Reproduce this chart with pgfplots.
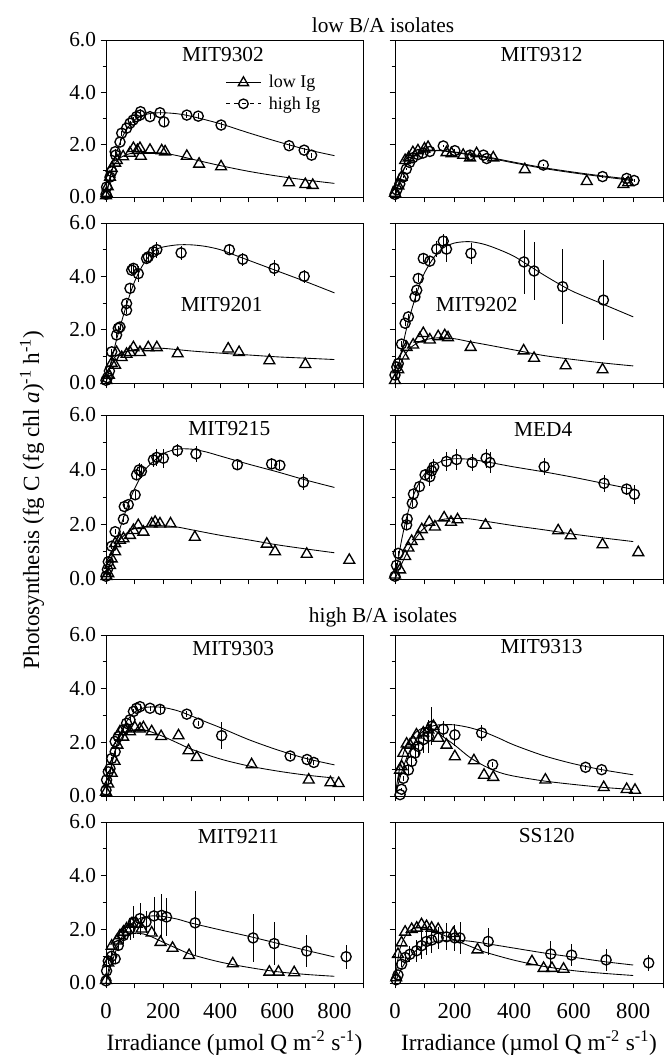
\documentclass[border=0pt]{standalone}
\usepackage{fontspec}
\setmainfont{Liberation Serif}
\usepackage{pgfplots}
\pgfplotsset{compat=1.18}
\tikzset{lab/.style={font=\fontsize{16}{18}\selectfont}}
\pgfplotsset{
  panel/.style={scale only axis, xmin=0, xmax=900, ymin=0, ymax=6,
    xtick={0,100,...,900}, xticklabels={}, ytick={0,2,4,6}, yticklabels={},
    minor ytick={1,3,5}, tick align=outside, xtick pos=bottom, ytick pos=left,
    major tick length=4pt, minor tick length=2.5pt,
    tick style={black, line width=0.6pt}, axis line style={line width=0.7pt},
    clip=false, anchor=south west,
    yticklabel style={font=\fontsize{16}{18}\selectfont},
    xticklabel style={font=\fontsize{17}{19}\selectfont, yshift=-8pt},
  },
  L/.style={panel, width=192.75pt, yticklabels={0.0,2.0,4.0,6.0}},
  R/.style={panel, width=201pt},
  bot/.style={xticklabels={0,,200,,400,,600,,800,},
    xlabel={Irradiance (µmol Q m\textsuperscript{-2} s\textsuperscript{-1})},
    xlabel style={font=\fontsize{17.5}{19}\selectfont, yshift=-2pt}},
  hi/.style={only marks, mark=o, mark size=3.8pt, black, mark options={line width=1pt},
    error bars/y dir=both, error bars/y explicit, error bars/error mark=none,
    error bars/error bar style={line width=0.6pt, black}},
  lo/.style={only marks, mark=triangle, mark size=4.7pt, black, mark options={line width=1pt}},
  fit/.style={no marks, smooth, black, line width=0.65pt},
}
\begin{document}
\begin{tikzpicture}
\path[use as bounding box] (0pt,0pt) rectangle (501pt,795.75pt);

% ---------- Row 1 left: MIT9302
\begin{axis}[L, at={(79.5pt,648pt)}, height=117.75pt,
  legend style={at={(0.45,0.81)}, anchor=north west, draw=none, fill=none,
    font=\fontsize{13.5}{15}\selectfont, row sep=1pt, cells={anchor=west}},
  legend image code/.code={\draw[mark repeat=2,mark phase=2,#1] plot coordinates {(0cm,0cm) (0.45cm,0cm) (0.9cm,0cm)};}]
\addlegendimage{black, line width=0.7pt, mark=triangle, mark size=4.4pt, mark options={solid, line width=1pt}}
\addlegendentry{\hspace{4pt}low Ig}
\addlegendimage{black, dashed, line width=0.7pt, mark=o, mark size=3.6pt, mark options={solid, line width=1pt}}
\addlegendentry{\hspace{4pt}high Ig}
\addplot[fit, forget plot] coordinates {(0,0) (20,1.0) (40,1.8) (60,2.35) (80,2.7) (100,2.95) (130,3.12) (160,3.2) (200,3.22) (250,3.18) (300,3.08) (400,2.8) (500,2.45) (600,2.12) (700,1.82) (800,1.58)};
\addplot[fit, forget plot] coordinates {(0,0) (10,0.6) (20,1.0) (30,1.25) (50,1.5) (75,1.63) (100,1.68) (150,1.7) (200,1.68) (250,1.58) (300,1.45) (400,1.2) (500,0.98) (600,0.8) (700,0.65) (800,0.52)};
\addplot[hi, forget plot] table[x=x, y=y, y error=e] {
x y e
0 0.1 0
2 0.38 0.1
14 0.76 0.1
20 0.97 0.1
32 1.73 0.1
34 1.6 0.1
49 2.1 0.1
55 2.44 0.1
72 2.63 0.1
84 2.82 0.1
95 2.94 0.1
107 3.07 0.1
119 3.13 0.1
121 3.26 0.1
154 3.07 0.1
189 3.22 0.1
203 2.87 0.15
283 3.13 0.12
323 3.09 0.12
403 2.75 0.1
641 1.96 0.12
694 1.79 0.1
720 1.6 0.1
};
\addplot[lo, forget plot] table {
x y
0 0.05
2 0.15
6 0.4
14 0.76
20 1.1
32 1.3
38 1.4
60 1.54
84 1.68
96 1.86
110 1.78
119 1.86
122 1.56
154 1.79
195 1.77
207 1.73
283 1.56
326 1.26
403 1.16
641 0.55
698 0.48
724 0.45
};
\node[lab] at (rel axis cs:0.455,0.905) {MIT9302};
\end{axis}

% ---------- Row 1 right: MIT9312
\begin{axis}[R, at={(296.25pt,648pt)}, height=117.75pt]
\addplot[fit] coordinates {(0,0) (15,0.6) (30,1.05) (50,1.4) (75,1.65) (100,1.75) (150,1.78) (200,1.72) (300,1.55) (400,1.33) (500,1.12) (600,0.95) (700,0.8) (800,0.67)};
\addplot[fit] coordinates {(0,0) (15,0.62) (30,1.08) (50,1.43) (75,1.67) (100,1.76) (150,1.77) (200,1.7) (300,1.52) (400,1.3) (500,1.09) (600,0.92) (700,0.77) (800,0.63)};
\addplot[hi] table[x=x, y=y, y error=e] {
x y e
0 0.1 0
6 0.27 0.05
16 0.5 0.05
27 0.76 0.05
38 1.07 0.05
49 1.32 0.05
60 1.5 0.05
77 1.62 0.05
94 1.68 0.05
117 1.74 0.05
162 1.95 0.05
201 1.77 0.05
252 1.6 0.05
297 1.6 0.05
308 1.47 0.05
498 1.22 0.05
697 0.78 0.05
778 0.71 0.05
803 0.63 0.05
};
\addplot[lo] table {
x y
0 0.15
11 0.43
22 0.76
34 1.4
46 1.5
60 1.7
77 1.77
99 1.84
111 1.9
173 1.7
190 1.66
229 1.6
252 1.5
274 1.66
330 1.5
436 1.05
644 0.6
767 0.48
783 0.55
};
\node[lab] at (rel axis cs:0.547,0.905) {MIT9312};
\end{axis}

% ---------- Row 2 left: MIT9201
\begin{axis}[L, at={(79.5pt,508.5pt)}, height=120pt]
\addplot[fit] coordinates {(0,0) (20,0.9) (40,1.75) (60,2.5) (80,3.2) (100,3.8) (125,4.35) (150,4.75) (175,5.0) (200,5.1) (250,5.18) (300,5.18) (350,5.12) (400,5.0) (450,4.8) (500,4.6) (600,4.2) (700,3.8) (800,3.38)};
\addplot[fit] coordinates {(0,0) (20,0.8) (40,1.05) (60,1.15) (100,1.25) (150,1.3) (200,1.3) (300,1.2) (400,1.12) (500,1.05) (600,0.98) (700,0.93) (800,0.88)};
\addplot[hi] table[x=x, y=y, y error=e] {
x y e
0 0.1 0
5 0.2 0.05
12 0.45 0.05
20 1.17 0.1
37 1.8 0.1
43 2.05 0.1
49 2.1 0.1
72 2.73 0.15
72 2.98 0.15
84 3.55 0.15
90 4.23 0.15
96 4.3 0.15
113 4.1 0.3
142 4.67 0.2
148 4.73 0.2
166 4.92 0.2
178 5.0 0.3
263 4.88 0.25
432 5.0 0.2
479 4.64 0.25
589 4.3 0.3
694 4.0 0.25
};
\addplot[lo] table {
x y
2 0.1
10 0.3
20 0.74
32 0.67
37 1.15
55 0.96
72 1.08
84 1.15
96 1.33
119 1.15
148 1.33
178 1.33
251 1.1
428 1.28
466 1.15
572 0.84
698 0.7
};
\node[lab] at (rel axis cs:0.45,0.49) {MIT9201};
\end{axis}

% ---------- Row 2 right: MIT9202
\begin{axis}[R, at={(296.25pt,508.5pt)}, height=120pt]
\addplot[fit] coordinates {(0,0) (20,1.1) (40,2.1) (60,2.9) (80,3.6) (100,4.15) (130,4.7) (160,5.05) (200,5.25) (250,5.3) (300,5.2) (350,5.0) (400,4.75) (450,4.4) (500,4.05) (550,3.72) (600,3.42) (700,2.95) (800,2.48)};
\addplot[fit] coordinates {(0,0) (15,0.6) (30,1.0) (50,1.3) (75,1.5) (100,1.62) (150,1.7) (200,1.66) (250,1.55) (300,1.45) (400,1.24) (500,1.03) (600,0.88) (700,0.75) (800,0.64)};
\addplot[hi] table[x=x, y=y, y error=e] {
x y e
0 0.3 0.05
6 0.6 0.05
11 0.73 0.05
22 1.46 0.1
34 2.24 0.1
45 2.48 0.1
67 3.23 0.15
73 3.48 0.1
78 3.92 0.15
95 4.67 0.15
117 4.57 0.15
140 5.02 0.3
162 5.32 0.25
173 5.02 0.5
255 4.86 0.4
433 4.54 1.2
467 4.2 1.1
563 3.61 1.4
700 3.11 1.5
};
\addplot[lo] table {
x y
0 0.1
11 0.5
28 1.02
39 1.34
61 1.43
83 1.66
95 1.86
117 1.62
145 1.74
167 1.78
178 1.7
254 1.34
432 1.21
467 0.93
573 0.65
697 0.5
};
\node[lab] at (rel axis cs:0.305,0.49) {MIT9202};
\end{axis}

% ---------- Row 3 left: MIT9215
\begin{axis}[L, at={(79.5pt,361.5pt)}, height=123pt]
\addplot[fit] coordinates {(0,0) (20,0.8) (40,1.55) (60,2.2) (80,2.8) (100,3.3) (125,3.8) (150,4.15) (200,4.58) (250,4.75) (300,4.75) (350,4.65) (400,4.5) (500,4.2) (600,3.92) (700,3.62) (800,3.35)};
\addplot[fit] coordinates {(0,0) (15,0.6) (30,1.1) (50,1.45) (75,1.7) (100,1.85) (150,1.93) (200,1.95) (250,1.9) (300,1.8) (400,1.6) (500,1.43) (600,1.25) (700,1.1) (800,0.96)};
\addplot[hi] table[x=x, y=y, y error=e] {
x y e
0 0.1 0
5 0.35 0.05
8 0.63 0.05
20 1.2 0.1
32 1.73 0.1
61 2.19 0.1
64 2.65 0.1
78 2.72 0.15
102 3.08 0.15
107 3.81 0.2
116 3.99 0.25
124 3.94 0.25
166 4.36 0.25
178 4.45 0.3
201 4.42 0.35
250 4.7 0.25
315 4.58 0.3
460 4.18 0.15
580 4.21 0.2
609 4.16 0.15
691 3.54 0.3
};
\addplot[lo] table {
x y
2 0.1
8 0.2
14 0.5
20 0.74
32 1.0
32 1.3
49 1.42
61 1.48
84 1.6
96 1.78
113 1.96
131 1.72
160 2.02
172 2.08
189 2.02
226 2.02
311 1.53
563 1.28
592 1.0
703 0.91
852 0.69
};
\node[lab] at (rel axis cs:0.48,0.92) {MIT9215};
\end{axis}

% ---------- Row 3 right: MED4
\begin{axis}[R, at={(296.25pt,361.5pt)}, height=123pt]
\addplot[fit] coordinates {(0,0) (20,1.3) (40,2.3) (60,3.0) (80,3.5) (100,3.85) (130,4.15) (160,4.32) (200,4.4) (250,4.38) (300,4.3) (400,4.1) (500,3.92) (600,3.72) (700,3.5) (800,3.28)};
\addplot[fit] coordinates {(0,0) (20,0.5) (40,0.95) (60,1.35) (80,1.65) (100,1.88) (130,2.08) (160,2.18) (200,2.22) (250,2.2) (300,2.12) (400,1.95) (500,1.8) (600,1.64) (700,1.5) (800,1.37)};
\addplot[hi] table[x=x, y=y, y error=e] {
x y e
0 0.1 0
5 0.5 0.1
11 0.94 0.1
39 1.98 0.15
41 2.2 0.15
58 2.77 0.15
62 3.11 0.15
82 3.38 0.2
101 3.81 0.2
117 3.74 0.35
123 3.96 0.3
130 4.1 0.3
173 4.3 0.35
207 4.37 0.4
259 4.26 0.3
306 4.42 0.35
319 4.26 0.4
501 4.11 0.3
702 3.5 0.3
778 3.29 0.2
804 3.1 0.35
};
\addplot[lo] table {
x y
0 0.15
17 0.34
34 0.83
45 1.14
56 1.38
78 1.56
90 1.81
115 2.08
134 1.91
165 2.24
188 2.08
210 2.17
304 1.97
548 1.77
590 1.59
697 1.26
817 0.97
};
\node[lab] at (rel axis cs:0.553,0.91) {MED4};
\end{axis}

\node[lab] at (287.25pt,777pt) {low B/A isolates};
\node[lab] at (287.25pt,333pt) {high B/A isolates};
\node[font=\fontsize{17.4}{19}\selectfont, rotate=90] at (24pt,420.75pt) {Photosynthesis (fg C (fg chl \textit{a})\textsuperscript{-1} h\textsuperscript{-1})};

% ---------- Row 4 left: MIT9303
\begin{axis}[L, at={(79.5pt,198.75pt)}, height=120.75pt]
\addplot[fit] coordinates {(0,0) (20,1.2) (40,2.0) (60,2.55) (80,2.9) (100,3.12) (130,3.28) (160,3.32) (200,3.3) (250,3.18) (300,2.98) (350,2.76) (400,2.55) (500,2.1) (600,1.72) (700,1.4) (800,1.16)};
\addplot[fit] coordinates {(0,0) (15,0.9) (30,1.6) (50,2.1) (75,2.38) (100,2.47) (125,2.48) (150,2.42) (200,2.22) (250,1.98) (300,1.74) (400,1.38) (500,1.12) (600,0.93) (700,0.78) (800,0.67)};
\addplot[hi] table[x=x, y=y, y error=e] {
x y e
0 0.22 0
2 0.6 0.05
8 0.9 0.05
14 1.02 0.05
20 1.4 0.05
32 1.65 0.1
32 2.03 0.1
43 2.21 0.1
61 2.46 0.1
72 2.71 0.1
84 2.84 0.1
96 3.15 0.1
107 3.27 0.1
119 3.33 0.1
154 3.27 0.1
189 3.23 0.15
283 3.05 0.1
323 2.71 0.1
405 2.25 0.5
645 1.49 0.1
704 1.36 0.1
728 1.25 0.1
};
\addplot[lo] table {
x y
0 0.15
8 0.45
20 0.85
30 1.3
40 1.9
49 2.4
60 2.2
72 2.5
84 2.4
101 2.55
119 2.5
131 2.55
160 2.4
193 2.22
254 2.25
289 1.69
318 1.44
510 1.17
710 0.6
786 0.5
815 0.47
};
\node[lab] at (rel axis cs:0.495,0.917) {MIT9303};
\end{axis}

% ---------- Row 4 right: MIT9313
\begin{axis}[R, at={(296.25pt,198.75pt)}, height=120.75pt]
\addplot[fit] coordinates {(0,0) (20,0.8) (40,1.45) (60,1.9) (80,2.25) (100,2.48) (130,2.62) (160,2.66) (200,2.65) (250,2.55) (300,2.38) (350,2.15) (400,1.9) (500,1.5) (600,1.2) (700,0.97) (800,0.79)};
\addplot[fit] coordinates {(0,0) (15,1.0) (30,1.65) (50,2.1) (75,2.42) (100,2.55) (125,2.5) (150,2.3) (200,1.9) (250,1.45) (300,1.12) (350,0.88) (400,0.74) (500,0.56) (600,0.43) (700,0.32) (800,0.24)};
\addplot[hi] table[x=x, y=y, y error=e] {
x y e
17 0.05 0
22 0.25 0.05
28 0.66 0.1
45 0.97 0.2
56 1.29 0.2
67 1.6 0.3
78 1.85 0.4
95 2.1 0.5
112 2.22 0.6
123 2.6 0.7
162 2.49 0.3
201 2.28 0.4
291 2.35 0.3
328 1.17 0.1
640 1.07 0.1
694 0.98 0.1
};
\addplot[lo] table {
x y
17 0.97
22 1.1
28 1.6
39 1.94
50 1.9
61 2.03
72 2.28
95 2.35
112 2.47
129 2.6
145 2.16
173 1.9
201 1.47
265 1.32
299 0.78
330 0.7
505 0.6
701 0.32
778 0.25
806 0.22
};
\node[lab] at (rel axis cs:0.547,0.927) {MIT9313};
\end{axis}

% ---------- Row 5 left: MIT9211
\begin{axis}[L, bot, at={(79.5pt,58.5pt)}, height=120.75pt]
\addplot[fit] coordinates {(0,0) (20,0.75) (40,1.35) (60,1.8) (80,2.1) (100,2.3) (130,2.45) (160,2.5) (200,2.48) (250,2.38) (300,2.23) (400,1.98) (500,1.74) (600,1.48) (700,1.22) (800,0.97)};
\addplot[fit] coordinates {(0,0) (15,0.8) (30,1.3) (50,1.6) (75,1.78) (100,1.85) (130,1.83) (160,1.72) (200,1.52) (250,1.28) (300,1.06) (400,0.78) (500,0.58) (600,0.42) (700,0.32) (800,0.25)};
\addplot[hi] table[x=x, y=y, y error=e] {
x y e
0 0.08 0
2 0.45 0.1
8 0.82 0.1
20 1.0 0.15
32 0.9 0.15
43 1.4 0.2
61 1.77 0.3
84 2.02 0.4
96 2.27 0.6
119 2.4 0.6
140 2.27 0.4
168 2.5 0.7
195 2.52 0.8
212 2.46 0.7
312 2.24 1.2
515 1.68 0.9
589 1.47 0.8
703 1.19 0.6
841 0.98 0.45
};
\addplot[lo] table {
x y
0 0.1
8 0.75
20 1.38
37 1.57
49 1.77
61 1.9
72 2.02
90 2.2
107 2.2
125 2.02
160 1.87
191 1.52
233 1.3
291 1.03
444 0.72
572 0.41
604 0.41
659 0.39
};
\node[lab] at (rel axis cs:0.515,0.909) {MIT9211};
\end{axis}

% ---------- Row 5 right: SS120
\begin{axis}[R, bot, at={(296.25pt,58.5pt)}, height=120.75pt]
\addplot[fit] coordinates {(0,0) (20,0.5) (40,0.85) (60,1.1) (80,1.3) (100,1.42) (130,1.53) (160,1.58) (200,1.6) (250,1.56) (300,1.48) (400,1.3) (500,1.12) (600,0.96) (700,0.8) (800,0.67)};
\addplot[fit] coordinates {(0,0) (10,0.9) (20,1.4) (40,1.85) (60,2.02) (80,2.07) (100,2.05) (130,1.95) (160,1.8) (200,1.6) (250,1.38) (300,1.16) (400,0.85) (500,0.62) (600,0.46) (700,0.36) (800,0.28)};
\addplot[hi] table[x=x, y=y, y error=e] {
x y e
4 0.12 0
10 0.3 0.05
22 0.7 0.1
34 0.95 0.2
50 1.07 0.3
72 1.2 0.4
89 1.39 0.5
106 1.55 0.5
123 1.6 0.5
145 1.68 0.4
173 1.72 0.5
201 1.68 0.5
218 1.68 0.6
313 1.55 0.5
523 1.08 0.5
593 1.04 0.4
709 0.86 0.4
852 0.75 0.3
};
\addplot[lo] table {
x y
4 0.2
10 1.07
22 1.5
34 1.9
56 2.0
73 2.05
89 2.18
106 2.11
123 2.05
145 2.0
196 1.85
277 1.24
460 0.8
499 0.55
527 0.55
566 0.52
};
\node[lab] at (rel axis cs:0.566,0.919) {SS120};
\end{axis}
\end{tikzpicture}
\end{document}
